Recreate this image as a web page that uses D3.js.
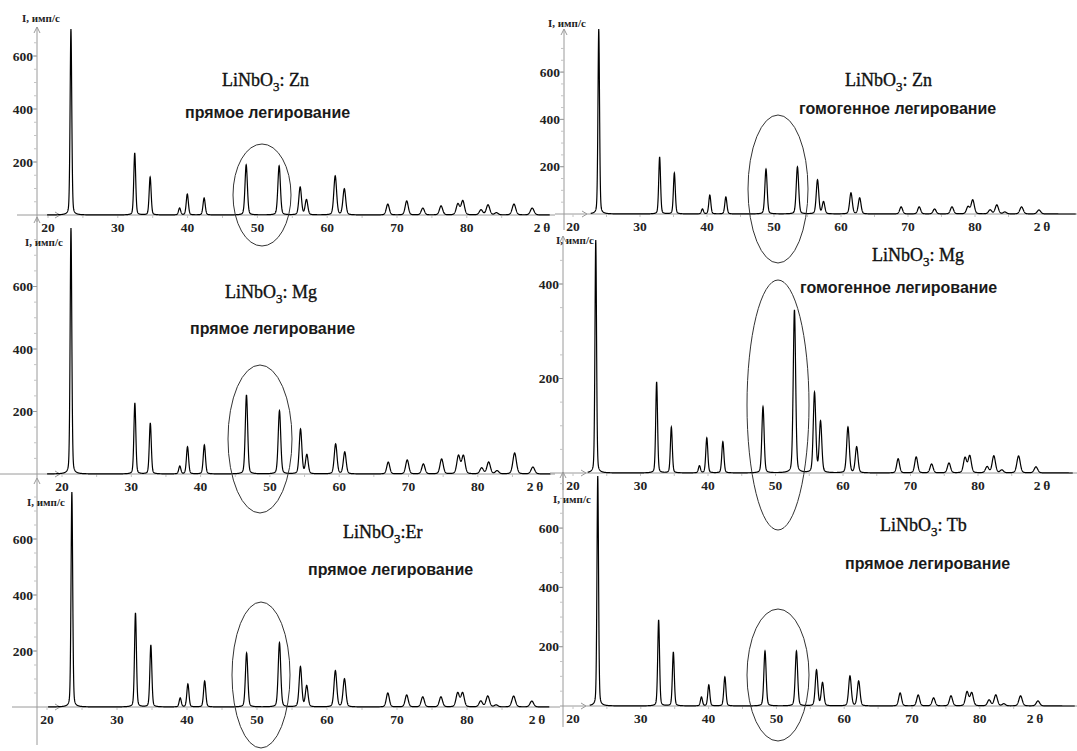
<!DOCTYPE html>
<html lang="ru">
<head>
<meta charset="utf-8">
<title>LiNbO3 XRD</title>
<script src="https://d3js.org/d3.v7.min.js"></script>
<style>
  body { margin: 0; background: #fff; }
  .axis line, .axis path { stroke: #9a9a9a; stroke-width: 1; fill: none; }
  .tick-label { font-family: "Liberation Serif", serif; font-weight: bold; font-size: 13.5px; fill: #222; }
  .ylab { font-family: "Liberation Serif", serif; font-weight: bold; font-size: 11px; fill: #222; }
  .title { font-family: "Liberation Serif", serif; font-size: 18px; fill: #111; stroke: #111; stroke-width: 0.35; }
  .sub { font-family: "Liberation Sans", Arial, sans-serif; font-weight: bold; font-size: 16px; fill: #1a1a1a; }
  .curve { fill: none; stroke: #000; stroke-width: 1.2; }
  .oval { fill: none; stroke: #333; stroke-width: 1; }
</style>
</head>
<body>
<script>
// peak positions (2θ, degrees)
const peakPos = [23.7, 32.8, 35.0, 39.2, 40.3, 42.7, 48.7, 53.4, 56.4, 57.3, 61.4, 62.7,
                 68.9, 71.6, 73.9, 76.5, 78.9, 79.6, 82.2, 83.2, 84.4, 86.9, 89.5];

// peak intensities, имп/с
const znDirect = [702, 234, 143, 26, 79, 64, 189, 185, 105, 57, 147, 98, 41, 53, 26, 34, 41, 53, 19, 38, 8, 41, 26];
const mgDirect = [787, 227, 163, 25, 87, 93, 253, 202, 143, 61, 96, 70, 38, 45, 32, 48, 58, 58, 19, 38, 10, 67, 22];
const erDirect = [768, 336, 221, 32, 82, 93, 193, 229, 143, 75, 129, 100, 50, 43, 36, 36, 50, 50, 21, 39, 7, 39, 21];
const znHomo   = [782, 241, 173, 21, 80, 72, 190, 199, 144, 51, 89, 68, 30, 30, 21, 30, 30, 59, 17, 38, 8, 30, 17];
const mgHomo   = [493, 193, 97, 15, 74, 66, 140, 345, 169, 108, 97, 55, 30, 34, 19, 21, 32, 36, 13, 36, 6, 36, 13];
const tbDirect = [776, 290, 182, 30, 71, 98, 185, 185, 121, 78, 101, 84, 44, 37, 27, 34, 47, 44, 20, 37, 7, 34, 17];

const xTicks = [20, 30, 40, 50, 60, 70, 80];
const dopants = ["Zn", "Mg", "Er", "Zn", "Mg", "Tb"];
const colons = [": ", ": ", ":", ": ", ": ", ": "];
const methods = ["прямое легирование", "прямое легирование", "прямое легирование",
                 "гомогенное легирование", "гомогенное легирование", "прямое легирование"];

const series = [znDirect, mgDirect, erDirect, znHomo, mgHomo, tbDirect];

// layout of each panel (pixels)
const layout = [
  {ax: 37, base: 215, top: 27, bot: 222, axL: 17, axR: 555, d20: 45, dpx: 70.1, l20: 48, lpx: 69.8, p200: 53,
   yt: [200, 400, 600], thX: 542, lab: [22, 22], tt: [222, 86], st: [185, 118], dEnd: 92,
   oval: [262, 195, 29, 51]},
  {ax: 37, base: 474, top: 217, bot: 478, axL: 0, axR: 555, d20: 45, dpx: 70.2, l20: 62, lpx: 69.3, p200: 62.5,
   yt: [200, 400, 600], thX: 535, lab: [25, 246], tt: [225, 298], st: [190, 334], dEnd: 92,
   oval: [260, 439, 32, 74]},
  {ax: 37, base: 707, top: 478, bot: 745, axL: 12, axR: 560, d20: 46, dpx: 69.9, l20: 47, lpx: 70, p200: 56,
   yt: [200, 400, 600], thX: 537, lab: [27, 506], tt: [343, 538], st: [308, 575], dEnd: 92,
   oval: [261, 675, 29, 73]},
  {ax: 564, base: 214, top: 29, bot: 230, axL: 555, axR: 1077, d20: 574, dpx: 66.9, l20: 573, lpx: 67, p200: 47.3,
   yt: [200, 400, 600], thX: 1042, lab: [548, 27], tt: [845, 86], st: [799, 114], dEnd: 95,
   oval: [778, 189, 30, 74]},
  {ax: 563, base: 473, top: 236, bot: 490, axL: 550, axR: 1077, d20: 571, dpx: 66.9, l20: 573, lpx: 67.5, p200: 94.5,
   yt: [200, 400], thX: 1042, lab: [556, 244], tt: [872, 261], st: [800, 293], dEnd: 95,
   oval: [778, 405, 31, 125]},
  {ax: 563, base: 706, top: 472, bot: 727, axL: 560, axR: 1077, d20: 573, dpx: 66.9, l20: 573, lpx: 67.8, p200: 59.3,
   yt: [200, 400, 600], thX: 1035, lab: [553, 503], tt: [880, 531], st: [845, 569], dEnd: 95,
   oval: [778, 675, 31, 66]}
];

const W = 1077, H = 751;
const svg = d3.select("body").append("svg").attr("width", W).attr("height", H);

// peak profile built from the read peak list (pseudo-Voigt shape)
function profile(heights, lo, hi) {
  const pts = [];
  for (let t = lo; t <= hi; t += 0.02) {
    let s = 0;
    peakPos.forEach((p, i) => {
      const fw = 0.26 + 0.005 * (p - 20);
      const d = (t - p) / fw;
      s += heights[i] * (0.75 * Math.exp(-4 * Math.LN2 * d * d) + 0.25 / (1 + 4 * d * d));
    });
    pts.push([t, s]);
  }
  return pts;
}

layout.forEach((L, k) => {
  const g = svg.append("g");
  const x = d3.scaleLinear().domain([20, 90]).range([L.d20, L.d20 + 7 * L.dpx]);
  const xl = d3.scaleLinear().domain([20, 90]).range([L.l20, L.l20 + 7 * L.lpx]);
  const y = d3.scaleLinear().domain([0, 200]).range([L.base, L.base - L.p200]);

  const ax = g.append("g").attr("class", "axis");
  // x axis line + arrow
  ax.append("line").attr("x1", L.axL).attr("x2", L.axR).attr("y1", L.base).attr("y2", L.base);
  ax.append("path").attr("d", `M${L.ax + 18},${L.base - 3}L${L.ax + 23},${L.base}L${L.ax + 18},${L.base + 3}`);
  // y axis line + arrow
  ax.append("line").attr("x1", L.ax).attr("x2", L.ax).attr("y1", L.top).attr("y2", L.bot);
  ax.append("path").attr("d", `M${L.ax - 3},${L.top + 6}L${L.ax},${L.top}L${L.ax + 3},${L.top + 6}`);

  // minor y ticks
  const ymax = y.invert(L.top + 8);
  const minor = d3.range(50, ymax, 50);
  ax.selectAll(".ym").data(minor).enter().append("line")
    .attr("x1", L.ax - 3).attr("x2", L.ax).attr("y1", d => y(d)).attr("y2", d => y(d))
    .style("stroke", "#c4c4c4");
  ax.selectAll(".yM").data(L.yt).enter().append("line")
    .attr("x1", L.ax - 4).attr("x2", L.ax).attr("y1", d => y(d)).attr("y2", d => y(d));
  g.selectAll(".yl").data(L.yt).enter().append("text")
    .attr("class", "tick-label").attr("x", L.ax - 4).attr("y", d => y(d) + 4.5)
    .attr("text-anchor", "end").text(d => d);

  // x ticks and labels
  ax.selectAll(".xm").data(d3.range(20, 90, 5)).enter().append("line")
    .attr("x1", d => xl(d)).attr("x2", d => xl(d)).attr("y1", L.base).attr("y2", L.base + 3)
    .style("stroke", "#c4c4c4");
  g.selectAll(".xl").data(xTicks).enter().append("text")
    .attr("class", "tick-label").attr("x", d => xl(d)).attr("y", L.base + 17)
    .attr("text-anchor", "middle").text(d => d);
  g.append("text").attr("class", "tick-label").attr("x", L.thX).attr("y", L.base + 17)
    .attr("text-anchor", "middle").text("2\u2009θ");

  g.append("text").attr("class", "ylab").attr("x", L.lab[0]).attr("y", L.lab[1]).text("I, имп/с");

  // pattern
  const line = d3.line().x(d => x(d[0])).y(d => y(d[1]));
  const lo = k < 3 ? 20.3 : 22.5;
  g.append("path").attr("class", "curve").attr("d", line(profile(series[k], lo, L.dEnd)));

  // labels
  const t = g.append("text").attr("class", "title").attr("x", L.tt[0]).attr("y", L.tt[1]);
  t.append("tspan").text("LiNbO");
  t.append("tspan").attr("dy", 5).style("font-size", "13px").text("3");
  t.append("tspan").attr("dy", -5).text(colons[k] + dopants[k]);
  g.append("text").attr("class", "sub").attr("x", L.st[0]).attr("y", L.st[1]).text(methods[k]);
});

// ovals marking the 48-54° doublet
svg.selectAll(".oval").data(layout).enter().append("ellipse")
  .attr("class", "oval")
  .attr("cx", d => d.oval[0]).attr("cy", d => d.oval[1])
  .attr("rx", d => d.oval[2]).attr("ry", d => d.oval[3]);
</script>
</body>
</html>
